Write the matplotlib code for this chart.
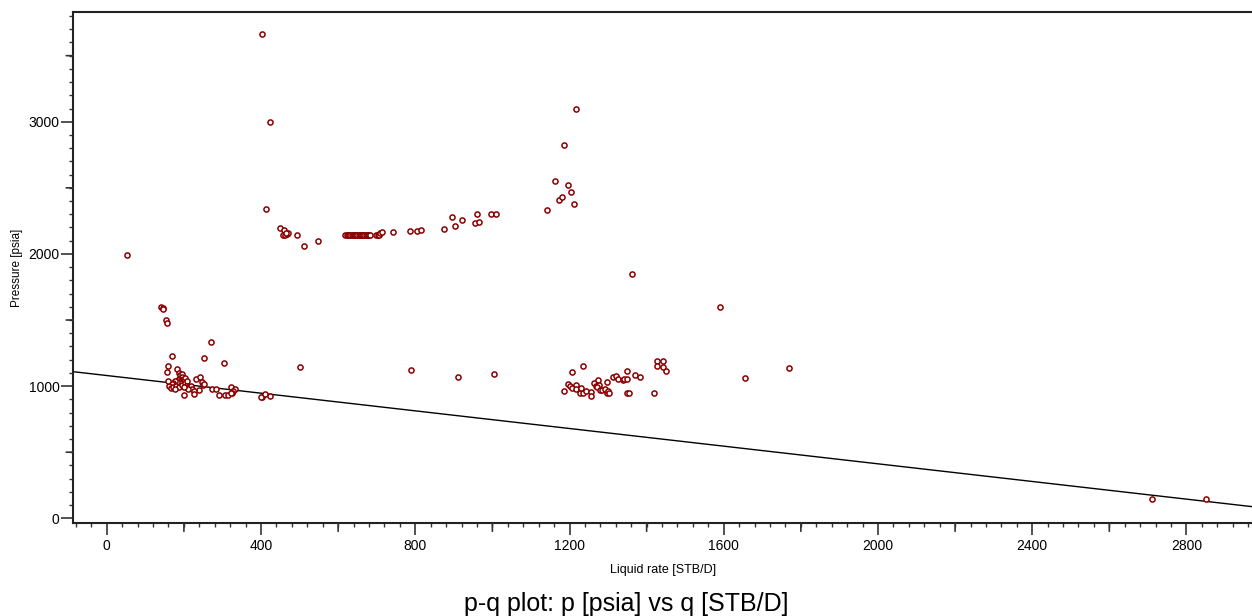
import matplotlib
matplotlib.use("Agg")
import matplotlib.pyplot as plt
from matplotlib.ticker import MultipleLocator, FixedLocator

plt.rcParams['font.family'] = ['Liberation Sans', 'DejaVu Sans']

# Measured rate / pressure pairs
q_rate = [
    # low-pressure cluster near 150-300 STB/D
    183, 187, 190, 195, 194, 188, 185, 192, 199, 203, 197, 190, 183, 178, 173,
    168, 162, 166, 160, 171, 180, 187, 195, 204, 209, 206, 213, 218, 221, 211,
    199, 176, 247, 249, 251, 232, 242, 272, 282, 238, 225, 227, 200, 290, 306,
    315, 322, 333, 328, 326, 321, 403, 399, 410, 422,
    # elevated points on the left
    141, 145, 146, 154, 156, 269, 169, 252, 303, 501, 159, 156, 52, 403, 424,
    # upper band around 2150 psia
    413, 448, 460, 458, 462, 467, 471, 464, 494, 512, 547,
    618, 622, 626, 629, 632, 635, 638, 641, 644, 647, 650, 653, 656, 659,
    662, 665, 668, 671, 674, 677, 680, 683,
    697, 703, 706, 709, 714, 743, 786, 805, 815, 875, 895, 904, 922, 954,
    960, 964, 997, 1009, 1142, 1163, 1174, 1180, 1185, 1196, 1204, 1212, 1218,
    # mid-rate cluster near 1200-1450 STB/D
    1185, 1196, 1201, 1207, 1206, 1217, 1217, 1227, 1231, 1236, 1236, 1244,
    1255, 1255, 1263, 1275, 1270, 1276, 1272, 1279, 1284, 1293, 1296, 1299,
    1302, 1298, 1314, 1320, 1327, 1338, 1341, 1350, 1349, 1350, 1355, 1371,
    1383, 1418, 1426, 1442, 1426, 1442, 1450, 1654, 1769,
    # scattered points
    1362, 1590, 1004, 911, 789, 2710, 2850,
]
p_wf = [
    1129, 1102, 1086, 1089, 1071, 1056, 1046, 1041, 1051, 1059, 1031, 1021, 1033, 1039, 1026,
    1016, 1001, 983, 1036, 996, 1001, 991, 1006, 1021, 1036, 1001, 991, 1001, 981, 976,
    996, 981, 1031, 1008, 1013, 1051, 1066, 981, 981, 973, 960, 938, 933, 933, 933,
    933, 991, 978, 963, 945, 950, 920, 915, 938, 925,
    1601, 1593, 1581, 1500, 1475, 1334, 1230, 1215, 1177, 1145, 1152, 1104, 1992, 3663, 2995,
    2340, 2193, 2183, 2146, 2146, 2150, 2155, 2158, 2146, 2057, 2098,
    2146, 2146, 2146, 2146, 2146, 2146, 2146, 2146, 2146, 2146, 2146, 2146, 2146, 2146,
    2146, 2146, 2146, 2146, 2146, 2146, 2146, 2146,
    2146, 2146, 2146, 2156, 2163, 2168, 2176, 2174, 2183, 2191, 2277, 2209, 2254, 2231,
    2299, 2239, 2299, 2299, 2332, 2551, 2410, 2428, 2826, 2521, 2466, 2380, 3099,
    966, 1013, 1003, 1104, 986, 1011, 978, 945, 988, 1152, 950, 966,
    953, 925, 1026, 1046, 1001, 1008, 991, 971, 971, 978, 945, 966,
    945, 1029, 1066, 1076, 1051, 1044, 1051, 1051, 1112, 950, 950, 1081,
    1066, 950, 1192, 1192, 1152, 1142, 1112, 1059, 1137,
    1848, 1599, 1092, 1070, 1122, 146, 144,
]

# Straight-line inflow relation through two end points
ipr_q = [-87, 2970]
ipr_p = [1109, 88]

x_limits = (-87, 2970)
y_limits = (-38, 3828)
x_major = [0, 400, 800, 1200, 1600, 2000, 2400, 2800]
x_medium = [200, 600, 1000, 1400, 1800, 2200, 2600]
y_major = [0, 1000, 2000, 3000]
y_medium = [500, 1500, 2500, 3500]

fig = plt.figure(figsize=(12.52, 6.16), dpi=100)
ax = fig.add_axes([0.0585, 0.1505, 0.9415, 0.8295])

ax.plot(ipr_q, ipr_p, color='black', lw=1.0, zorder=2)
ax.plot(q_rate, p_wf, linestyle='none', marker='o', markersize=3.7,
        markerfacecolor='white', markeredgecolor='#8b0000', markeredgewidth=1.1,
        zorder=3)

ax.set_xlim(*x_limits)
ax.set_ylim(*y_limits)

ax.xaxis.set_major_locator(FixedLocator(x_major))
ax.xaxis.set_minor_locator(MultipleLocator(40))
ax.yaxis.set_major_locator(FixedLocator(y_major))
ax.yaxis.set_minor_locator(MultipleLocator(100))

ax.tick_params(axis='both', which='major', direction='out', length=8.6, width=1.2,
               color='#333333', labelsize=10, pad=1.2)
ax.tick_params(axis='both', which='minor', direction='out', length=2.7, width=1.0,
               color='#333333')
ax.tick_params(axis='x', which='major', pad=2.5)

# medium-length ticks every 200 STB/D and 500 psia
for xv in x_medium:
    ax.annotate('', xy=(xv, 0), xycoords=('data', 'axes fraction'),
                xytext=(0, -8), textcoords='offset pixels',
                arrowprops=dict(arrowstyle='-', color='#333333', lw=1.2,
                                shrinkA=0, shrinkB=0), annotation_clip=False)
for yv in y_medium:
    ax.annotate('', xy=(0, yv), xycoords=('axes fraction', 'data'),
                xytext=(-7, 0), textcoords='offset pixels',
                arrowprops=dict(arrowstyle='-', color='#333333', lw=1.2,
                                shrinkA=0, shrinkB=0), annotation_clip=False)

for side in ('left', 'bottom', 'top'):
    ax.spines[side].set_color('#222222')
    ax.spines[side].set_linewidth(1.5)
ax.spines['right'].set_visible(False)

ax.set_xlabel('Liquid rate [STB/D]', fontsize=9, labelpad=8)
ax.set_ylabel('Pressure [psia]', fontsize=8.5, labelpad=4)
fig.text(0.5, 0.008, 'p-q plot: p [psia] vs q [STB/D]', ha='center', va='baseline',
         fontsize=18)

fig.savefig('out.png', dpi=100)
